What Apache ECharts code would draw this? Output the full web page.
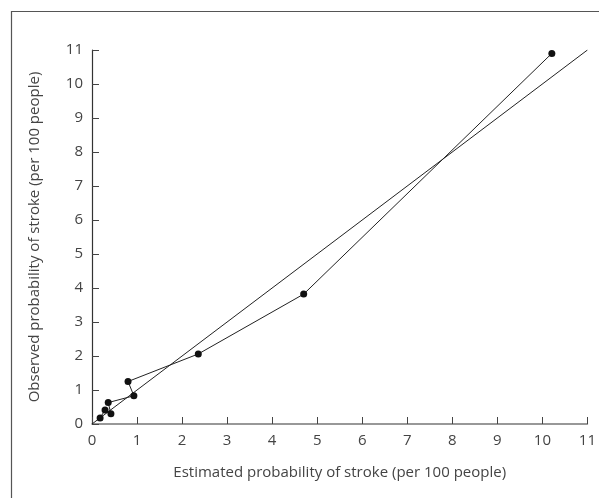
<!DOCTYPE html>
<html>
<head>
<meta charset="utf-8">
<script src="https://cdn.jsdelivr.net/npm/echarts@6/dist/echarts.min.js"></script>
<style>
  html, body { margin: 0; padding: 0; background: #fff; }
  #chart { width: 599px; height: 498px; }
</style>
</head>
<body>
<div id="chart"></div>
<script>
// Estimated vs observed probability of stroke (per 100 people), by group
const estimated = [0.18, 0.29, 0.42, 0.36, 0.93, 0.80, 2.36, 4.70, 10.21];
const observed  = [0.18, 0.41, 0.30, 0.63, 0.83, 1.25, 2.06, 3.82, 10.90];
// reference line of perfect calibration
const diagonal = [[0, 0], [11, 11]];

const points = estimated.map((x, i) => [x, observed[i]]);

const chart = echarts.init(document.getElementById('chart'));
const fontFamily = '"Open Sans", "DejaVu Sans", sans-serif';
const textColor = '#444';

const option = {
    backgroundColor: '#fff',
    animation: false,
    grid: { left: 92, right: 7, top: 50, bottom: 74 },
    xAxis: {
        type: 'value',
        min: 0,
        max: 11,
        interval: 1,
        name: 'Estimated probability of stroke (per 100 people)',
        nameLocation: 'middle',
        nameGap: 41,
        nameTextStyle: { color: textColor, fontSize: 15, fontFamily },
        axisLine: { lineStyle: { color: '#777', width: 1.5 } },
        axisTick: { inside: true, length: 7, lineStyle: { color: '#444' } },
        axisLabel: { color: textColor, fontSize: 15, fontFamily, margin: 9 },
        splitLine: { show: false }
    },
    yAxis: {
        type: 'value',
        min: 0,
        max: 11,
        interval: 1,
        name: 'Observed probability of stroke (per 100 people)',
        nameLocation: 'middle',
        nameGap: 50,
        nameTextStyle: { color: textColor, fontSize: 15, fontFamily },
        axisLine: { show: true, lineStyle: { color: '#333', width: 1.2 } },
        axisTick: { show: true, inside: true, length: 7, lineStyle: { color: '#444' } },
        axisLabel: { color: textColor, fontSize: 15, fontFamily, margin: 9 },
        splitLine: { show: false }
    },
    graphic: [{
        type: 'rect',
        shape: { x: 11.5, y: 11.5, width: 700, height: 600 },
        style: { fill: 'none', stroke: '#555', lineWidth: 1.2 },
        silent: true
    }],
    series: [
        {
            type: 'line',
            data: diagonal,
            showSymbol: false,
            lineStyle: { color: '#222', width: 1 }
        },
        {
            type: 'line',
            data: points,
            symbol: 'circle',
            symbolSize: 7,
            itemStyle: { color: '#111' },
            lineStyle: { color: '#222', width: 1 }
        }
    ]
};

chart.setOption(option);
</script>
</body>
</html>
